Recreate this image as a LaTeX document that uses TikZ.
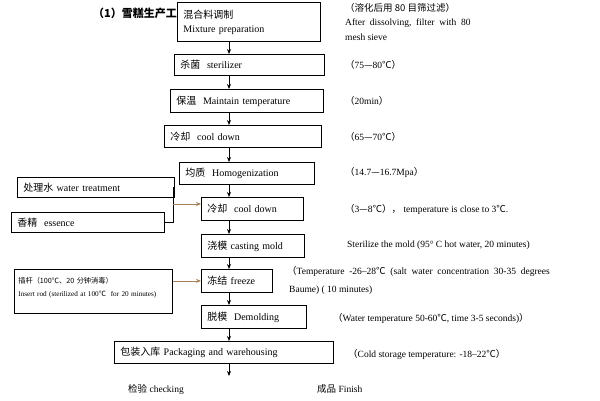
\documentclass[tikz,border=0pt]{standalone}
\usepackage{fontspec}
\setmainfont{Liberation Serif}
\newfontfamily\cjk{Noto Sans CJK SC}
\usetikzlibrary{positioning,arrows.meta,calc}

\begin{document}
\begin{tikzpicture}[x=1pt,y=-1pt,>={Stealth[length=5pt,width=4pt]},
  font=\fontsize{9.5}{13}\selectfont,
  stage/.style={draw,thick,fill=white,anchor=north west,inner xsep=6pt,inner ysep=3pt,align=left,
    font=\fontsize{10}{14}\selectfont},
  note/.style={anchor=west,inner sep=0pt,align=left},
  flow/.style={->,thick},
  feed/.style={->,thick,draw=brown!60!gray}
  ]
  \useasboundingbox (0,0) rectangle (600,400);
  \coordinate (spine) at (229,0);

  % title, partly hidden by the first box
  \node[note,font=\fontsize{11}{12}\selectfont\bfseries] (title) at (93,13) {{\cjk （1）雪糕生产工}};

  % main column
  \node[stage,text width=131,minimum height=39] (mix) at (177,2)
    {{\cjk 混合料调制}\\Mixture preparation};
  \node[stage,text width=138,minimum height=21] (steril) at (174,54) {{\cjk 杀菌}\ \ sterilizer};
  \node[stage,text width=141,minimum height=23] (keep) at (170,89) {{\cjk 保温}\ \ Maintain temperature};
  \node[stage,text width=145,minimum height=22] (coolA) at (164,125) {{\cjk 冷却}\ \ cool down};
  \node[stage,text width=123,minimum height=22] (homog) at (179,162) {{\cjk 均质}\ \ Homogenization};
  \node[stage,text width=90,minimum height=23] (coolB) at (201,197) {{\cjk 冷却}\ \ cool down};
  \node[stage,text width=91,minimum height=23] (cast) at (201,234) {{\cjk 浇模} casting mold};
  \node[stage,text width=59,minimum height=23] (freeze) at (201,269) {{\cjk 冻结} freeze};
  \node[stage,text width=93,minimum height=23] (demold) at (201,305) {{\cjk 脱模}\ \ Demolding};
  \node[stage,text width=207,minimum height=22] (pack) at (114,341) {{\cjk 包装入库} Packaging and warehousing};
  \coordinate (packend) at (229,376);

  % side inputs
  \node[stage,text width=150,inner xsep=4pt,minimum height=44,font=\fontsize{7.2}{13}\selectfont] (rod) at (14,269)
    {{\cjk 插杆（100℃、20 分钟消毒）}\\Insert rod (sterilized at 100{\cjk ℃}\ \ for 20 minutes)\\[-4pt]\ };
  \node[stage,text width=145,minimum height=20] (water) at (17,177) {{\cjk 处理水} water treatment};
  \node[stage,text width=141,minimum height=20] (essence) at (11,212) {{\cjk 香精}\ \ essence};
  \coordinate (join) at (173,204);

  \foreach \a/\b in {mix/steril,steril/keep,keep/coolA,coolA/homog,homog/coolB,
                     coolB/cast,cast/freeze,freeze/demold,demold/pack}
    \draw[flow] (\a.south -| spine) -- (\b.north -| spine);
  \draw[flow] (pack.south -| spine) -- (packend);

  \draw[thick] (water.east) -| (join);
  \draw[thick] (essence.east) -| (join);
  \draw[feed] (join) -- (join -| coolB.west);
  \draw[feed] (rod.east |- freeze.west) -- (freeze.west);

  % outputs
  \node[note] (check) at (128,389) {{\cjk 检验} checking};
  \node[note] (finish) at (317,389) {{\cjk 成品} Finish};

  % notes on the right
  \node[note] (n1) at (345,8) {{\cjk （溶化后用 80 目筛过滤）}};
  \node[note] (n1b) at (345,23) {After\ \ dissolving,\ \ filter\ \ with\ \ 80};
  \node[note] (n1c) at (345,37) {mesh sieve};
  \node[note] (n2) at (345,65) {{\cjk （}75{\cjk —}80{\cjk ℃）}};
  \node[note] (n3) at (345,101) {{\cjk （}20min{\cjk ）}};
  \node[note] (n4) at (345,137) {{\cjk （}65{\cjk —}70{\cjk ℃）}};
  \node[note] (n5) at (345,172) {{\cjk （}14.7{\cjk —}16.7Mpa{\cjk ）}};
  \node[note] (n6) at (345,209) {{\cjk （}3{\cjk —}8{\cjk ℃），} temperature is close to 3{\cjk ℃}.};
  \node[note] (n7) at (347,245) {Sterilize the mold (95° C hot water, 20 minutes)};
  \node[note] (n8) at (287,271) {{\cjk （}Temperature\ \ -26--28{\cjk ℃}\ \ (salt\ \ water\ \ concentration\ \ 30-35\ \ degrees};
  \node[note] (n8b) at (289,290) {Baume) ( 10 minutes)};
  \node[note] (n9) at (333,318) {{\cjk （}Water temperature 50-60{\cjk ℃}, time 3-5 seconds){\cjk ）}};
  \node[note] (n10) at (348,354) {{\cjk （}Cold storage temperature: -18--22{\cjk ℃）}};
\end{tikzpicture}
\end{document}
